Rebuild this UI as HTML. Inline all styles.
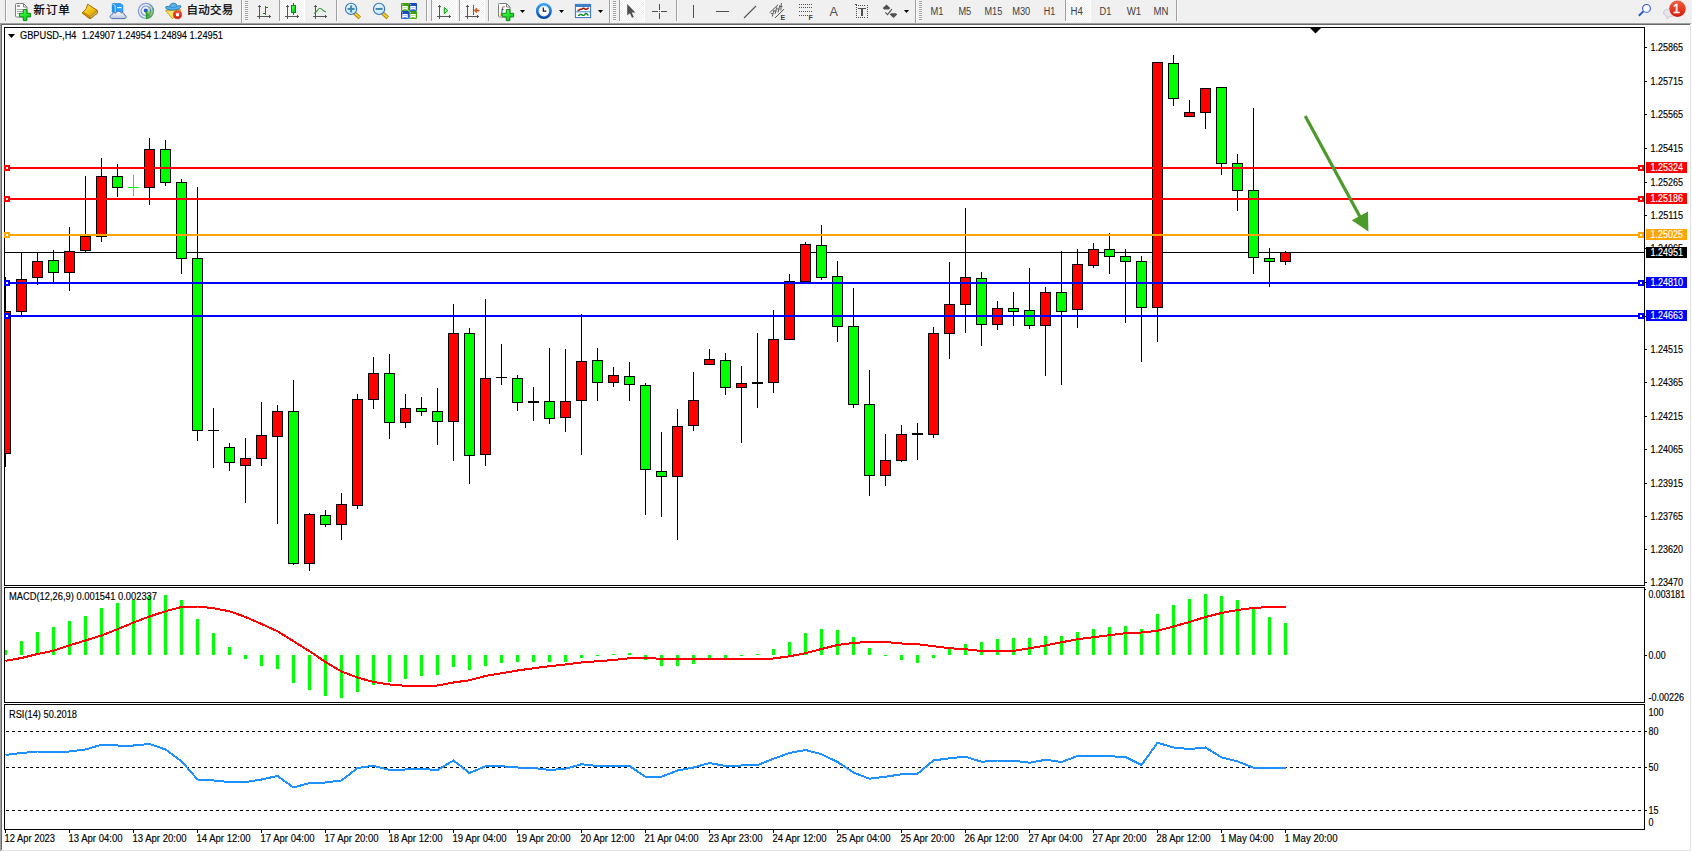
<!DOCTYPE html>
<html lang="zh"><head><meta charset="utf-8"><title>GBPUSD-,H4</title>
<style>html,body{margin:0;padding:0;background:#fff;overflow:hidden}svg{display:block}</style></head>
<body><svg width="1692" height="852" viewBox="0 0 1692 852" font-family="Liberation Sans, sans-serif" shape-rendering="crispEdges">
<rect x="0" y="0" width="1692" height="852" fill="#fff"/>
<rect x="0" y="0" width="1692" height="23" fill="#f0f0f0"/>
<rect x="0" y="23" width="1691" height="1" fill="#a0a0a0"/>
<rect x="0" y="24" width="1690" height="1" fill="#696969"/>
<rect x="0" y="23" width="1" height="828" fill="#a0a0a0"/>
<rect x="1" y="24" width="1" height="826" fill="#696969"/>
<rect x="1690" y="24" width="1" height="827" fill="#e3e3e3"/>
<rect x="1" y="850" width="1690" height="1" fill="#e3e3e3"/>
<defs><pattern id="chk" width="2" height="2" patternUnits="userSpaceOnUse"><rect width="2" height="2" fill="#f0f0f0"/><rect width="1" height="1" fill="#fff"/><rect x="1" y="1" width="1" height="1" fill="#fff"/></pattern><linearGradient id="gp" x1="0" y1="0" x2="1" y2="1"><stop offset="0" stop-color="#8cff8c"/><stop offset="0.5" stop-color="#1ee62a"/><stop offset="1" stop-color="#0fb81a"/></linearGradient><linearGradient id="gold" x1="0" y1="0" x2="1" y2="1"><stop offset="0" stop-color="#ffe870"/><stop offset="0.5" stop-color="#f0c010"/><stop offset="1" stop-color="#c88a00"/></linearGradient><linearGradient id="cloud" x1="0" y1="0" x2="0" y2="1"><stop offset="0" stop-color="#ffffff"/><stop offset="1" stop-color="#b8c6de"/></linearGradient><linearGradient id="srv" x1="0" y1="0" x2="1" y2="0"><stop offset="0" stop-color="#0a90f0"/><stop offset="1" stop-color="#38a8ff"/></linearGradient><radialGradient id="lens" cx="0.4" cy="0.35" r="0.7"><stop offset="0" stop-color="#f0faff"/><stop offset="1" stop-color="#bfe4f8"/></radialGradient><linearGradient id="clk" x1="0" y1="0" x2="0" y2="1"><stop offset="0" stop-color="#3aa0f4"/><stop offset="1" stop-color="#0848a8"/></linearGradient><linearGradient id="redb" x1="0" y1="0" x2="0" y2="1"><stop offset="0" stop-color="#f06040"/><stop offset="1" stop-color="#d81808"/></linearGradient><linearGradient id="tg" x1="0" y1="0" x2="0" y2="1"><stop offset="0" stop-color="#3a9a08"/><stop offset="1" stop-color="#56b018"/></linearGradient><linearGradient id="tb" x1="0" y1="0" x2="0" y2="1"><stop offset="0" stop-color="#1444b8"/><stop offset="1" stop-color="#2a6ae0"/></linearGradient></defs>
<rect x="5" y="0" width="1" height="21" fill="#a0a0a0"/>
<rect x="6" y="0" width="1" height="21" fill="#fafafa"/>
<rect x="241" y="0" width="1" height="23" fill="#a0a0a0"/>
<rect x="242" y="0" width="1" height="23" fill="#fafafa"/>
<rect x="245" y="1" width="3" height="1" fill="#a0a0a0"/>
<rect x="245" y="2" width="3" height="1" fill="#f8f8f8"/>
<rect x="245" y="3" width="3" height="1" fill="#a0a0a0"/>
<rect x="245" y="4" width="3" height="1" fill="#f8f8f8"/>
<rect x="245" y="5" width="3" height="1" fill="#a0a0a0"/>
<rect x="245" y="6" width="3" height="1" fill="#f8f8f8"/>
<rect x="245" y="7" width="3" height="1" fill="#a0a0a0"/>
<rect x="245" y="8" width="3" height="1" fill="#f8f8f8"/>
<rect x="245" y="9" width="3" height="1" fill="#a0a0a0"/>
<rect x="245" y="10" width="3" height="1" fill="#f8f8f8"/>
<rect x="245" y="11" width="3" height="1" fill="#a0a0a0"/>
<rect x="245" y="12" width="3" height="1" fill="#f8f8f8"/>
<rect x="245" y="13" width="3" height="1" fill="#a0a0a0"/>
<rect x="245" y="14" width="3" height="1" fill="#f8f8f8"/>
<rect x="245" y="15" width="3" height="1" fill="#a0a0a0"/>
<rect x="245" y="16" width="3" height="1" fill="#f8f8f8"/>
<rect x="245" y="17" width="3" height="1" fill="#a0a0a0"/>
<rect x="245" y="18" width="3" height="1" fill="#f8f8f8"/>
<rect x="245" y="19" width="3" height="1" fill="#a0a0a0"/>
<rect x="245" y="20" width="3" height="1" fill="#f8f8f8"/>
<rect x="280" y="0" width="24" height="21" fill="url(#chk)"/>
<rect x="279" y="0" width="1" height="21" fill="#a0a0a0"/>
<rect x="304" y="0" width="1" height="22" fill="#fff"/>
<rect x="279" y="21" width="26" height="1" fill="#fff"/>
<rect x="336" y="0" width="1" height="21" fill="#a0a0a0"/>
<rect x="337" y="0" width="1" height="21" fill="#fafafa"/>
<rect x="426" y="0" width="1" height="21" fill="#a0a0a0"/>
<rect x="427" y="0" width="1" height="21" fill="#fafafa"/>
<rect x="432" y="0" width="24" height="21" fill="url(#chk)"/>
<rect x="431" y="0" width="1" height="21" fill="#a0a0a0"/>
<rect x="456" y="0" width="1" height="22" fill="#fff"/>
<rect x="431" y="21" width="26" height="1" fill="#fff"/>
<rect x="460" y="0" width="24" height="21" fill="url(#chk)"/>
<rect x="459" y="0" width="1" height="21" fill="#a0a0a0"/>
<rect x="484" y="0" width="1" height="22" fill="#fff"/>
<rect x="459" y="21" width="26" height="1" fill="#fff"/>
<rect x="488" y="0" width="1" height="21" fill="#a0a0a0"/>
<rect x="489" y="0" width="1" height="21" fill="#fafafa"/>
<rect x="609" y="0" width="1" height="23" fill="#a0a0a0"/>
<rect x="610" y="0" width="1" height="23" fill="#fafafa"/>
<rect x="613" y="1" width="3" height="1" fill="#a0a0a0"/>
<rect x="613" y="2" width="3" height="1" fill="#f8f8f8"/>
<rect x="613" y="3" width="3" height="1" fill="#a0a0a0"/>
<rect x="613" y="4" width="3" height="1" fill="#f8f8f8"/>
<rect x="613" y="5" width="3" height="1" fill="#a0a0a0"/>
<rect x="613" y="6" width="3" height="1" fill="#f8f8f8"/>
<rect x="613" y="7" width="3" height="1" fill="#a0a0a0"/>
<rect x="613" y="8" width="3" height="1" fill="#f8f8f8"/>
<rect x="613" y="9" width="3" height="1" fill="#a0a0a0"/>
<rect x="613" y="10" width="3" height="1" fill="#f8f8f8"/>
<rect x="613" y="11" width="3" height="1" fill="#a0a0a0"/>
<rect x="613" y="12" width="3" height="1" fill="#f8f8f8"/>
<rect x="613" y="13" width="3" height="1" fill="#a0a0a0"/>
<rect x="613" y="14" width="3" height="1" fill="#f8f8f8"/>
<rect x="613" y="15" width="3" height="1" fill="#a0a0a0"/>
<rect x="613" y="16" width="3" height="1" fill="#f8f8f8"/>
<rect x="613" y="17" width="3" height="1" fill="#a0a0a0"/>
<rect x="613" y="18" width="3" height="1" fill="#f8f8f8"/>
<rect x="613" y="19" width="3" height="1" fill="#a0a0a0"/>
<rect x="613" y="20" width="3" height="1" fill="#f8f8f8"/>
<rect x="620" y="0" width="24" height="21" fill="url(#chk)"/>
<rect x="619" y="0" width="1" height="21" fill="#a0a0a0"/>
<rect x="644" y="0" width="1" height="22" fill="#fff"/>
<rect x="619" y="21" width="26" height="1" fill="#fff"/>
<rect x="676" y="0" width="1" height="21" fill="#a0a0a0"/>
<rect x="677" y="0" width="1" height="21" fill="#fafafa"/>
<rect x="915" y="0" width="1" height="23" fill="#a0a0a0"/>
<rect x="916" y="0" width="1" height="23" fill="#fafafa"/>
<rect x="919" y="1" width="3" height="1" fill="#a0a0a0"/>
<rect x="919" y="2" width="3" height="1" fill="#f8f8f8"/>
<rect x="919" y="3" width="3" height="1" fill="#a0a0a0"/>
<rect x="919" y="4" width="3" height="1" fill="#f8f8f8"/>
<rect x="919" y="5" width="3" height="1" fill="#a0a0a0"/>
<rect x="919" y="6" width="3" height="1" fill="#f8f8f8"/>
<rect x="919" y="7" width="3" height="1" fill="#a0a0a0"/>
<rect x="919" y="8" width="3" height="1" fill="#f8f8f8"/>
<rect x="919" y="9" width="3" height="1" fill="#a0a0a0"/>
<rect x="919" y="10" width="3" height="1" fill="#f8f8f8"/>
<rect x="919" y="11" width="3" height="1" fill="#a0a0a0"/>
<rect x="919" y="12" width="3" height="1" fill="#f8f8f8"/>
<rect x="919" y="13" width="3" height="1" fill="#a0a0a0"/>
<rect x="919" y="14" width="3" height="1" fill="#f8f8f8"/>
<rect x="919" y="15" width="3" height="1" fill="#a0a0a0"/>
<rect x="919" y="16" width="3" height="1" fill="#f8f8f8"/>
<rect x="919" y="17" width="3" height="1" fill="#a0a0a0"/>
<rect x="919" y="18" width="3" height="1" fill="#f8f8f8"/>
<rect x="919" y="19" width="3" height="1" fill="#a0a0a0"/>
<rect x="919" y="20" width="3" height="1" fill="#f8f8f8"/>
<rect x="1066" y="0" width="24" height="21" fill="url(#chk)"/>
<rect x="1065" y="0" width="1" height="21" fill="#a0a0a0"/>
<rect x="1090" y="0" width="1" height="22" fill="#fff"/>
<rect x="1065" y="21" width="26" height="1" fill="#fff"/>
<rect x="1176" y="0" width="1" height="21" fill="#a0a0a0"/>
<rect x="1177" y="0" width="1" height="21" fill="#fafafa"/>
<g shape-rendering="geometricPrecision">
<path d="M15.5 4.5q0-1 1-1h7l3.5 3.5v9q0 1-1 1h-9.5q-1 0-1-1z" fill="#fff" stroke="#808080" stroke-width="1"/>
<path d="M23.5 3.5v3.5h3.5" fill="none" stroke="#808080" stroke-width="1"/>
<rect x="17" y="5" width="3" height="2" fill="#a0a0a0"/>
<rect x="17" y="9" width="7" height="1" fill="#a8a8a8"/>
<rect x="17" y="11" width="7" height="1" fill="#a8a8a8"/>
<rect x="17" y="13" width="7" height="1" fill="#a8a8a8"/>
<path d="M23.3 9.6h3.6v3.7h3.7v3.6h-3.7v3.7h-3.6v-3.7h-3.7v-3.6h3.7z" fill="url(#gp)" stroke="#0a8a10" stroke-width="1" stroke-linejoin="miter"/>
<path d="M87.7 4.2L97.2 10.3L97.6 13L90 18.9L82.2 12.9L86.2 8.8z" fill="url(#gold)" stroke="#a86c00" stroke-width="1" stroke-linejoin="round"/>
<path d="M97.2 10.6L97.6 13L90 18.9L89.7 16.6z" fill="#cdb870" stroke="#a86c00" stroke-width="0.7" stroke-linejoin="round"/>
<path d="M82.2 12.9L90 18.9L89.7 16.4L83.2 11.8z" fill="#d8980c" stroke="#a86c00" stroke-width="0.7" stroke-linejoin="round"/>
<path d="M112.3 3.6h8l2.6 1.6v7h-10.6z" fill="url(#srv)" stroke="#0a78d8" stroke-width="0.6"/>
<path d="M112.6 3.8l2.6 1.8v6.4" fill="none" stroke="#e8f6ff" stroke-width="0.8"/>
<rect x="117" y="7" width="4.5" height="1.2" fill="#e8f6ff"/>
<path d="M112.2 18.6C109.4 18.6 109.4 14.8 112.2 14.5C112.4 12.5 114.8 12.2 115.7 13.3C116.5 10.7 120.7 10.7 121.3 13.1C123 12.2 124.8 13.6 124.3 14.9C126.8 15 126.8 18.6 124 18.6z" fill="url(#cloud)" stroke="#4664a8" stroke-width="0.9"/>
<path d="M145.9 10.9L145.9 19.1A8.2 8.2 0 0 0 150.0 3.8000000000000007z" fill="#b4d8a4" opacity="0.7"/>
<path d="M145.9 10.9L145.9 19.1A8.2 8.2 0 0 0 154.1 10.9z" fill="#4aa84a" opacity="0.4"/>
<path d="M145.9 10.9L145.9 19.1A8.2 8.2 0 0 0 151.70000000000002 16.7z" fill="#2a982a" opacity="0.45"/>
<circle cx="145.9" cy="10.9" r="7.5" fill="none" stroke="#3a68d4" stroke-width="1.3" opacity="0.6" stroke-dasharray="34.16 100" transform="rotate(95 145.9 10.9)"/>
<circle cx="145.9" cy="10.9" r="7.5" fill="none" stroke="#2c7c50" stroke-width="1.3" opacity="0.55" stroke-dasharray="14.14 100" transform="rotate(-20 145.9 10.9)"/>
<circle cx="145.9" cy="10.9" r="4.8" fill="none" stroke="#3a68d4" stroke-width="1.3" opacity="0.55" stroke-dasharray="21.87 100" transform="rotate(95 145.9 10.9)"/>
<circle cx="145.9" cy="10.9" r="4.8" fill="none" stroke="#2c7c50" stroke-width="1.3" opacity="0.55" stroke-dasharray="9.05 100" transform="rotate(-20 145.9 10.9)"/>
<circle cx="145.70000000000002" cy="10.6" r="2" fill="#2a58d0"/>
<line x1="146.5" y1="11.200000000000001" x2="146.5" y2="19.1" stroke="#18a018" stroke-width="1.3"/>
<path d="M165.6 10.6L181 9.6L172.6 18.8z" fill="#f8e060" stroke="#c89a10" stroke-width="0.9" stroke-linejoin="round"/>
<path d="M165.5 7.4c0.2-1.6 2.2-0.8 4-0.6c0-4.6 7.4-4.8 7.6-0.6c1.6-0.2 3.6-1.4 3.8 0.2c0.2 1.8-3.4 3.4-7.6 3.6c-4.4 0.2-8-0.8-7.8-2.6z" fill="#5ab2ea" stroke="#1a7cb0" stroke-width="0.9"/>
<path d="M169.6 6.9c2 1 5.4 0.8 7.4-0.6" fill="none" stroke="#1a7cb0" stroke-width="0.7" opacity="0.8"/>
<circle cx="177.5" cy="14.7" r="4.1" fill="url(#redb)" stroke="#b81000" stroke-width="0.5"/>
<rect x="176" y="13.2" width="3" height="3" fill="#fff"/>
<g shape-rendering="crispEdges">
<rect x="259" y="5" width="1" height="14" fill="#555555"/>
<rect x="257" y="16" width="14" height="1" fill="#555555"/>
<rect x="258" y="6" width="3" height="1" fill="#555555"/>
<rect x="269" y="15" width="1" height="3" fill="#555555"/>
</g>
<g shape-rendering="crispEdges">
<rect x="265" y="6" width="1" height="9" fill="#0a8a0a"/>
<rect x="266" y="7" width="2" height="1" fill="#0a8a0a"/>
<rect x="263" y="13" width="2" height="1" fill="#0a8a0a"/>
</g>
<g shape-rendering="crispEdges">
<rect x="287" y="5" width="1" height="14" fill="#555555"/>
<rect x="285" y="16" width="14" height="1" fill="#555555"/>
<rect x="286" y="6" width="3" height="1" fill="#555555"/>
<rect x="297" y="15" width="1" height="3" fill="#555555"/>
</g>
<rect x="293" y="3" width="1" height="12" fill="#0a8a0a" shape-rendering="crispEdges"/>
<rect x="291.5" y="5.5" width="4" height="7" fill="url(#gp)" stroke="#0a8a0a" stroke-width="1"/>
<g shape-rendering="crispEdges">
<rect x="315" y="5" width="1" height="14" fill="#555555"/>
<rect x="313" y="16" width="14" height="1" fill="#555555"/>
<rect x="314" y="6" width="3" height="1" fill="#555555"/>
<rect x="325" y="15" width="1" height="3" fill="#555555"/>
</g>
<path d="M314 13.6C316.5 12.6 318 8.3 320 8.3S323 11.4 325.8 11.9" fill="none" stroke="#2a9a2a" stroke-width="1.1"/>
<path d="M354.5 13.100000000000001l5.3 4.7" stroke="#a87800" stroke-width="3.6" stroke-linecap="butt"/>
<path d="M354.90000000000003 13.4l4.7 4.2" stroke="#f0d030" stroke-width="2" stroke-linecap="butt"/>
<circle cx="351.1" cy="8.9" r="5.6" fill="url(#lens)" stroke="#3274c4" stroke-width="1.1"/>
<rect x="347.6" y="7.9" width="7" height="2" fill="#4088b0"/>
<rect x="350.1" y="5.4" width="2" height="7" fill="#4088b0"/>
<path d="M382.5 13.100000000000001l5.3 4.7" stroke="#a87800" stroke-width="3.6" stroke-linecap="butt"/>
<path d="M382.90000000000003 13.4l4.7 4.2" stroke="#f0d030" stroke-width="2" stroke-linecap="butt"/>
<circle cx="379.1" cy="8.9" r="5.6" fill="url(#lens)" stroke="#3274c4" stroke-width="1.1"/>
<rect x="375.6" y="7.9" width="7" height="2" fill="#4088b0"/>
<rect x="401" y="3" width="8" height="8" rx="1" fill="url(#tg)"/>
<path d="M402.3 10v-4h5.4v4h-1.1v-0.7h-3.2v0.7z" fill="#fff"/>
<rect x="402.2" y="4.2" width="0.9" height="0.9" fill="#fff"/>
<rect x="403.3" y="7.3" width="3.4" height="0.7" fill="#9ad070"/>
<rect x="409" y="3" width="8" height="8" rx="1" fill="url(#tb)"/>
<path d="M410.3 10v-4h5.4v4h-1.1v-0.7h-3.2v0.7z" fill="#fff"/>
<rect x="410.2" y="4.2" width="0.9" height="0.9" fill="#fff"/>
<rect x="411.3" y="7.3" width="3.4" height="0.7" fill="#88a8f0"/>
<rect x="401" y="11" width="8" height="8" rx="1" fill="url(#tb)"/>
<path d="M402.3 18v-4h5.4v4h-1.1v-0.7h-3.2v0.7z" fill="#fff"/>
<rect x="402.2" y="12.2" width="0.9" height="0.9" fill="#fff"/>
<rect x="403.3" y="15.3" width="3.4" height="0.7" fill="#88a8f0"/>
<rect x="409" y="11" width="8" height="8" rx="1" fill="url(#tg)"/>
<path d="M410.3 18v-4h5.4v4h-1.1v-0.7h-3.2v0.7z" fill="#fff"/>
<rect x="410.2" y="12.2" width="0.9" height="0.9" fill="#fff"/>
<rect x="411.3" y="15.3" width="3.4" height="0.7" fill="#9ad070"/>
<g shape-rendering="crispEdges">
<rect x="439" y="5" width="1" height="14" fill="#555555"/>
<rect x="437" y="16" width="14" height="1" fill="#555555"/>
<rect x="438" y="6" width="3" height="1" fill="#555555"/>
<rect x="449" y="15" width="1" height="3" fill="#555555"/>
</g>
<path d="M444.3 7.4v6.3l3.6-3.1z" fill="#7cf08c" stroke="#12a012" stroke-width="1" stroke-linejoin="round"/>
<g shape-rendering="crispEdges">
<rect x="467" y="5" width="1" height="14" fill="#555555"/>
<rect x="465" y="16" width="14" height="1" fill="#555555"/>
<rect x="466" y="6" width="3" height="1" fill="#555555"/>
<rect x="477" y="15" width="1" height="3" fill="#555555"/>
</g>
<rect x="473" y="5" width="1" height="10" fill="#1878a8" shape-rendering="crispEdges"/>
<path d="M474.2 10.5l2.4-2.4v1.8h2.4v1.2h-2.4v1.8z" fill="#f06000" stroke="#a83000" stroke-width="0.5"/>
<path d="M498.5 4.5q0-1 1-1h7l3.5 3.5v9q0 1-1 1h-9.5q-1 0-1-1z" fill="#fff" stroke="#808080" stroke-width="1"/>
<path d="M506.5 3.5v3.5h3.5" fill="none" stroke="#808080" stroke-width="1"/>
<text x="500.5" y="13.5" font-size="11" font-style="italic" font-family="Liberation Serif, serif" fill="#403818">f</text>
<path d="M506.3 9.6h3.6v3.7h3.7v3.6h-3.7v3.7h-3.6v-3.7h-3.7v-3.6h3.7z" fill="url(#gp)" stroke="#0a8a10" stroke-width="1" stroke-linejoin="miter"/>
<path d="M520 10h5l-2.5 3z" fill="#000"/>
<circle cx="543.9" cy="11" r="6.7" fill="#fff" stroke="url(#clk)" stroke-width="2.6"/>
<circle cx="543.9" cy="11" r="4.6" fill="none" stroke="#a0a8b0" stroke-width="0.8" stroke-dasharray="0.6 1.81"/>
<path d="M543.3 7.4v3.7h3" fill="none" stroke="#111" stroke-width="1.2"/>
<path d="M559 10h5l-2.5 3z" fill="#000"/>
<rect x="575.4" y="4.4" width="15.2" height="13.2" fill="#fff" stroke="#3472c0" stroke-width="1"/>
<rect x="576" y="5" width="14" height="2" fill="#3a80d0"/>
<rect x="576" y="11.3" width="14" height="1" fill="#4a88d0"/>
<path d="M577.5 10.2h1.5l1.2-1h1.4l1.4-1h1l1.2 1h1.6l1-1h1" fill="none" stroke="#a01800" stroke-width="1.4"/>
<path d="M578 15.4h1.2l1.2-1h1l1.2 1h1.2l2-2l1.2 0.6l1.4 1.6" fill="none" stroke="#0c8a24" stroke-width="1.4"/>
<path d="M598 10h5l-2.5 3z" fill="#000"/>
<path d="M627.2 4v11.6l2.7-2.4l2.1 4.6l1.8-0.8l-2.1-4.5h3.7z" fill="#505050"/>
<g shape-rendering="crispEdges">
<rect x="659" y="4" width="1" height="6" fill="#505050"/>
<rect x="659" y="13" width="1" height="6" fill="#505050"/>
<rect x="652" y="11" width="6" height="1" fill="#505050"/>
<rect x="661" y="11" width="6" height="1" fill="#505050"/>
<rect x="659" y="11" width="1" height="1" fill="#505050"/>
<rect x="693" y="5" width="1" height="13" fill="#505050"/>
<rect x="716" y="11" width="13" height="1" fill="#505050"/>
</g>
<line x1="744" y1="18" x2="756" y2="6" stroke="#505050" stroke-width="1.1"/>
<path d="M769.6 12.8L778 4.8M775 18L784 9.2" stroke="#505050" stroke-width="1" fill="none"/>
<path d="M772.3 16.5l1.6-6.5M775 14l1.8-6.8M778 12.6l1.8-7.4M780.8 10.6l0.6-7.6M771 13.6h2M774 11h2.6M777 9h2.6M780 6.6h2.4" stroke="#505050" stroke-width="0.9" fill="none"/>
<text x="780.6" y="19.9" font-size="7" font-weight="bold" fill="#404040">E</text>
<g shape-rendering="crispEdges">
<rect x="799" y="4" width="1" height="1" fill="#505050"/>
<rect x="801" y="4" width="1" height="1" fill="#505050"/>
<rect x="803" y="4" width="1" height="1" fill="#505050"/>
<rect x="805" y="4" width="1" height="1" fill="#505050"/>
<rect x="807" y="4" width="1" height="1" fill="#505050"/>
<rect x="809" y="4" width="1" height="1" fill="#505050"/>
<rect x="811" y="4" width="1" height="1" fill="#505050"/>
<rect x="799" y="7" width="1" height="1" fill="#505050"/>
<rect x="801" y="7" width="1" height="1" fill="#505050"/>
<rect x="803" y="7" width="1" height="1" fill="#505050"/>
<rect x="805" y="7" width="1" height="1" fill="#505050"/>
<rect x="807" y="7" width="1" height="1" fill="#505050"/>
<rect x="809" y="7" width="1" height="1" fill="#505050"/>
<rect x="811" y="7" width="1" height="1" fill="#505050"/>
<rect x="799" y="11" width="1" height="1" fill="#505050"/>
<rect x="801" y="11" width="1" height="1" fill="#505050"/>
<rect x="803" y="11" width="1" height="1" fill="#505050"/>
<rect x="805" y="11" width="1" height="1" fill="#505050"/>
<rect x="807" y="11" width="1" height="1" fill="#505050"/>
<rect x="809" y="11" width="1" height="1" fill="#505050"/>
<rect x="811" y="11" width="1" height="1" fill="#505050"/>
<rect x="799" y="15" width="1" height="1" fill="#505050"/>
<rect x="801" y="15" width="1" height="1" fill="#505050"/>
<rect x="803" y="15" width="1" height="1" fill="#505050"/>
<rect x="805" y="15" width="1" height="1" fill="#505050"/>
<rect x="807" y="15" width="1" height="1" fill="#505050"/>
</g>
<text x="808.6" y="19.9" font-size="7" font-weight="bold" fill="#404040">F</text>
<text x="829.6" y="16" font-size="12.5" fill="#505050" textLength="8.4" lengthAdjust="spacingAndGlyphs">A</text>
<g shape-rendering="crispEdges">
<rect x="856" y="5" width="1" height="1" fill="#505050"/>
<rect x="856" y="17" width="1" height="1" fill="#505050"/>
<rect x="858" y="5" width="1" height="1" fill="#505050"/>
<rect x="858" y="17" width="1" height="1" fill="#505050"/>
<rect x="860" y="5" width="1" height="1" fill="#505050"/>
<rect x="860" y="17" width="1" height="1" fill="#505050"/>
<rect x="862" y="5" width="1" height="1" fill="#505050"/>
<rect x="862" y="17" width="1" height="1" fill="#505050"/>
<rect x="864" y="5" width="1" height="1" fill="#505050"/>
<rect x="864" y="17" width="1" height="1" fill="#505050"/>
<rect x="867" y="5" width="1" height="1" fill="#505050"/>
<rect x="867" y="17" width="1" height="1" fill="#505050"/>
<rect x="856" y="5" width="1" height="1" fill="#505050"/>
<rect x="867" y="5" width="1" height="1" fill="#505050"/>
<rect x="856" y="7" width="1" height="1" fill="#505050"/>
<rect x="867" y="7" width="1" height="1" fill="#505050"/>
<rect x="856" y="9" width="1" height="1" fill="#505050"/>
<rect x="867" y="9" width="1" height="1" fill="#505050"/>
<rect x="856" y="11" width="1" height="1" fill="#505050"/>
<rect x="867" y="11" width="1" height="1" fill="#505050"/>
<rect x="856" y="13" width="1" height="1" fill="#505050"/>
<rect x="867" y="13" width="1" height="1" fill="#505050"/>
<rect x="856" y="15" width="1" height="1" fill="#505050"/>
<rect x="867" y="15" width="1" height="1" fill="#505050"/>
<rect x="856" y="17" width="1" height="1" fill="#505050"/>
<rect x="867" y="17" width="1" height="1" fill="#505050"/>
<rect x="855" y="4" width="2" height="1" fill="#505050"/>
<rect x="858" y="8" width="8" height="1" fill="#505050"/>
<rect x="861" y="8" width="2" height="8" fill="#505050"/>
</g>
<path d="M886.5 4.6l3.7 3.4l-1.2 1.4h-5l-1.2-1.4z M893.5 18l3.7-3.4l-1.2-1.4h-5l-1.2 1.4z" fill="#505050"/>
<path d="M885.3 12.4l2.2 2.2l4.4-5.4" fill="none" stroke="#505050" stroke-width="1.1"/>
<path d="M904 10h5l-2.5 3z" fill="#000"/>
<circle cx="1646.5" cy="8.4" r="3.9" fill="#fff" stroke="#2a5cd0" stroke-width="1.1"/>
<line x1="1643.4" y1="11.4" x2="1638.8" y2="15.8" stroke="#2458c8" stroke-width="1.9"/>
<path d="M1663.6 12.6c0-5 12.4-5 12.4 0c0 3-3.4 4-6.6 3.8l-2.2 2.6l-0.4-2.8c-1.8-0.4-3.2-1.6-3.2-3.6z" fill="#e4e6ec" stroke="#c0c0c4" stroke-width="0.8"/>
<circle cx="1677.5" cy="8.7" r="8.2" fill="url(#redb)"/>
<text x="1676.4" y="13.2" font-size="12.5" stroke="#fff" stroke-width="0.4" fill="#fff" text-anchor="middle">1</text>
</g>
<text x="33.6" y="14.1" letter-spacing="0.8" font-size="11.5" fill="#000" stroke="#000" stroke-width="0.25" font-family="Liberation Sans, Noto Sans CJK SC, sans-serif">新订单</text>
<text x="186.5" y="14.1" letter-spacing="0.27" font-size="11.5" fill="#000" stroke="#000" stroke-width="0.25" font-family="Liberation Sans, Noto Sans CJK SC, sans-serif">自动交易</text>
<text x="930.4" y="15" font-size="10" fill="#404040" textLength="13.0" lengthAdjust="spacingAndGlyphs">M1</text>
<text x="958.4" y="15" font-size="10" fill="#404040" textLength="12.8" lengthAdjust="spacingAndGlyphs">M5</text>
<text x="984.5" y="15" font-size="10" fill="#404040" textLength="17.7" lengthAdjust="spacingAndGlyphs">M15</text>
<text x="1012.2" y="15" font-size="10" fill="#404040" textLength="18.1" lengthAdjust="spacingAndGlyphs">M30</text>
<text x="1043.7" y="15" font-size="10" fill="#404040" textLength="11.5" lengthAdjust="spacingAndGlyphs">H1</text>
<text x="1070.6" y="15" font-size="10" fill="#404040" textLength="12.3" lengthAdjust="spacingAndGlyphs">H4</text>
<text x="1099.5" y="15" font-size="10" fill="#404040" textLength="11.8" lengthAdjust="spacingAndGlyphs">D1</text>
<text x="1126.7" y="15" font-size="10" fill="#404040" textLength="14.6" lengthAdjust="spacingAndGlyphs">W1</text>
<text x="1153.6" y="15" font-size="10" fill="#404040" textLength="14.9" lengthAdjust="spacingAndGlyphs">MN</text>
<rect x="4" y="27" width="1641" height="1" fill="#000"/>
<rect x="4" y="585" width="1641" height="1" fill="#000"/>
<rect x="4" y="27" width="1" height="559" fill="#000"/>
<rect x="1644" y="27" width="1" height="559" fill="#000"/>
<rect x="4" y="587" width="1641" height="1" fill="#000"/>
<rect x="4" y="702" width="1641" height="1" fill="#000"/>
<rect x="4" y="587" width="1" height="116" fill="#000"/>
<rect x="1644" y="587" width="1" height="116" fill="#000"/>
<rect x="4" y="704" width="1641" height="1" fill="#000"/>
<rect x="4" y="829" width="1641" height="1" fill="#000"/>
<rect x="4" y="704" width="1" height="126" fill="#000"/>
<rect x="1644" y="704" width="1" height="126" fill="#000"/>
<defs><clipPath id="c1"><rect x="5" y="28" width="1639" height="557"/></clipPath><clipPath id="c2"><rect x="5" y="588" width="1639" height="114"/></clipPath><clipPath id="c3"><rect x="5" y="705" width="1639" height="124"/></clipPath></defs>
<rect x="5" y="252" width="1639" height="1" fill="#000"/>
<g clip-path="url(#c1)">
<rect x="5" y="277" width="1" height="190" fill="#000"/>
<rect x="0" y="311" width="11" height="143" fill="#000"/>
<rect x="1" y="312" width="9" height="141" fill="#ff0000"/>
<rect x="21" y="252" width="1" height="63" fill="#000"/>
<rect x="16" y="279" width="11" height="33" fill="#000"/>
<rect x="17" y="280" width="9" height="31" fill="#ff0000"/>
<rect x="37" y="252" width="1" height="33" fill="#000"/>
<rect x="32" y="261" width="11" height="17" fill="#000"/>
<rect x="33" y="262" width="9" height="15" fill="#ff0000"/>
<rect x="53" y="250" width="1" height="32" fill="#000"/>
<rect x="48" y="260" width="11" height="13" fill="#000"/>
<rect x="49" y="261" width="9" height="11" fill="#00ff00"/>
<rect x="69" y="227" width="1" height="64" fill="#000"/>
<rect x="64" y="251" width="11" height="22" fill="#000"/>
<rect x="65" y="252" width="9" height="20" fill="#ff0000"/>
<rect x="85" y="176" width="1" height="76" fill="#000"/>
<rect x="80" y="236" width="11" height="15" fill="#000"/>
<rect x="81" y="237" width="9" height="13" fill="#ff0000"/>
<rect x="101" y="158" width="1" height="84" fill="#000"/>
<rect x="96" y="176" width="11" height="61" fill="#000"/>
<rect x="97" y="177" width="9" height="59" fill="#ff0000"/>
<rect x="117" y="164" width="1" height="33" fill="#000"/>
<rect x="112" y="176" width="11" height="12" fill="#000"/>
<rect x="113" y="177" width="9" height="10" fill="#00ff00"/>
<rect x="133" y="175" width="1" height="21" fill="#00ff00"/>
<rect x="128" y="187" width="11" height="1" fill="#00ff00"/>
<rect x="149" y="138" width="1" height="67" fill="#000"/>
<rect x="144" y="149" width="11" height="39" fill="#000"/>
<rect x="145" y="150" width="9" height="37" fill="#ff0000"/>
<rect x="165" y="140" width="1" height="46" fill="#000"/>
<rect x="160" y="149" width="11" height="34" fill="#000"/>
<rect x="161" y="150" width="9" height="32" fill="#00ff00"/>
<rect x="181" y="179" width="1" height="95" fill="#000"/>
<rect x="176" y="182" width="11" height="77" fill="#000"/>
<rect x="177" y="183" width="9" height="75" fill="#00ff00"/>
<rect x="197" y="187" width="1" height="254" fill="#000"/>
<rect x="192" y="258" width="11" height="173" fill="#000"/>
<rect x="193" y="259" width="9" height="171" fill="#00ff00"/>
<rect x="213" y="408" width="1" height="60" fill="#000"/>
<rect x="208" y="430" width="11" height="1" fill="#000"/>
<rect x="229" y="443" width="1" height="28" fill="#000"/>
<rect x="224" y="447" width="11" height="16" fill="#000"/>
<rect x="225" y="448" width="9" height="14" fill="#00ff00"/>
<rect x="245" y="438" width="1" height="65" fill="#000"/>
<rect x="240" y="458" width="11" height="8" fill="#000"/>
<rect x="241" y="459" width="9" height="6" fill="#ff0000"/>
<rect x="261" y="402" width="1" height="64" fill="#000"/>
<rect x="256" y="435" width="11" height="24" fill="#000"/>
<rect x="257" y="436" width="9" height="22" fill="#ff0000"/>
<rect x="277" y="405" width="1" height="119" fill="#000"/>
<rect x="272" y="411" width="11" height="26" fill="#000"/>
<rect x="273" y="412" width="9" height="24" fill="#ff0000"/>
<rect x="293" y="380" width="1" height="185" fill="#000"/>
<rect x="288" y="411" width="11" height="153" fill="#000"/>
<rect x="289" y="412" width="9" height="151" fill="#00ff00"/>
<rect x="309" y="513" width="1" height="58" fill="#000"/>
<rect x="304" y="514" width="11" height="50" fill="#000"/>
<rect x="305" y="515" width="9" height="48" fill="#ff0000"/>
<rect x="325" y="510" width="1" height="17" fill="#000"/>
<rect x="320" y="515" width="11" height="10" fill="#000"/>
<rect x="321" y="516" width="9" height="8" fill="#00ff00"/>
<rect x="341" y="493" width="1" height="47" fill="#000"/>
<rect x="336" y="504" width="11" height="21" fill="#000"/>
<rect x="337" y="505" width="9" height="19" fill="#ff0000"/>
<rect x="357" y="394" width="1" height="115" fill="#000"/>
<rect x="352" y="399" width="11" height="107" fill="#000"/>
<rect x="353" y="400" width="9" height="105" fill="#ff0000"/>
<rect x="373" y="357" width="1" height="52" fill="#000"/>
<rect x="368" y="373" width="11" height="27" fill="#000"/>
<rect x="369" y="374" width="9" height="25" fill="#ff0000"/>
<rect x="389" y="354" width="1" height="85" fill="#000"/>
<rect x="384" y="373" width="11" height="50" fill="#000"/>
<rect x="385" y="374" width="9" height="48" fill="#00ff00"/>
<rect x="405" y="394" width="1" height="34" fill="#000"/>
<rect x="400" y="408" width="11" height="15" fill="#000"/>
<rect x="401" y="409" width="9" height="13" fill="#ff0000"/>
<rect x="421" y="397" width="1" height="19" fill="#000"/>
<rect x="416" y="408" width="11" height="4" fill="#000"/>
<rect x="417" y="409" width="9" height="2" fill="#00ff00"/>
<rect x="437" y="388" width="1" height="57" fill="#000"/>
<rect x="432" y="411" width="11" height="11" fill="#000"/>
<rect x="433" y="412" width="9" height="9" fill="#00ff00"/>
<rect x="453" y="304" width="1" height="157" fill="#000"/>
<rect x="448" y="333" width="11" height="89" fill="#000"/>
<rect x="449" y="334" width="9" height="87" fill="#ff0000"/>
<rect x="469" y="328" width="1" height="156" fill="#000"/>
<rect x="464" y="333" width="11" height="123" fill="#000"/>
<rect x="465" y="334" width="9" height="121" fill="#00ff00"/>
<rect x="485" y="299" width="1" height="167" fill="#000"/>
<rect x="480" y="378" width="11" height="77" fill="#000"/>
<rect x="481" y="379" width="9" height="75" fill="#ff0000"/>
<rect x="501" y="344" width="1" height="41" fill="#000"/>
<rect x="496" y="377" width="11" height="1" fill="#000"/>
<rect x="517" y="375" width="1" height="36" fill="#000"/>
<rect x="512" y="378" width="11" height="25" fill="#000"/>
<rect x="513" y="379" width="9" height="23" fill="#00ff00"/>
<rect x="533" y="387" width="1" height="34" fill="#000"/>
<rect x="528" y="401" width="11" height="2" fill="#000"/>
<rect x="549" y="348" width="1" height="76" fill="#000"/>
<rect x="544" y="401" width="11" height="18" fill="#000"/>
<rect x="545" y="402" width="9" height="16" fill="#00ff00"/>
<rect x="565" y="349" width="1" height="83" fill="#000"/>
<rect x="560" y="401" width="11" height="17" fill="#000"/>
<rect x="561" y="402" width="9" height="15" fill="#ff0000"/>
<rect x="581" y="314" width="1" height="141" fill="#000"/>
<rect x="576" y="361" width="11" height="40" fill="#000"/>
<rect x="577" y="362" width="9" height="38" fill="#ff0000"/>
<rect x="597" y="348" width="1" height="53" fill="#000"/>
<rect x="592" y="360" width="11" height="23" fill="#000"/>
<rect x="593" y="361" width="9" height="21" fill="#00ff00"/>
<rect x="613" y="367" width="1" height="20" fill="#000"/>
<rect x="608" y="375" width="11" height="8" fill="#000"/>
<rect x="609" y="376" width="9" height="6" fill="#ff0000"/>
<rect x="629" y="362" width="1" height="39" fill="#000"/>
<rect x="624" y="376" width="11" height="9" fill="#000"/>
<rect x="625" y="377" width="9" height="7" fill="#00ff00"/>
<rect x="645" y="383" width="1" height="132" fill="#000"/>
<rect x="640" y="385" width="11" height="85" fill="#000"/>
<rect x="641" y="386" width="9" height="83" fill="#00ff00"/>
<rect x="661" y="432" width="1" height="85" fill="#000"/>
<rect x="656" y="471" width="11" height="6" fill="#000"/>
<rect x="657" y="472" width="9" height="4" fill="#00ff00"/>
<rect x="677" y="409" width="1" height="131" fill="#000"/>
<rect x="672" y="426" width="11" height="51" fill="#000"/>
<rect x="673" y="427" width="9" height="49" fill="#ff0000"/>
<rect x="693" y="372" width="1" height="59" fill="#000"/>
<rect x="688" y="400" width="11" height="26" fill="#000"/>
<rect x="689" y="401" width="9" height="24" fill="#ff0000"/>
<rect x="709" y="349" width="1" height="16" fill="#000"/>
<rect x="704" y="359" width="11" height="6" fill="#000"/>
<rect x="705" y="360" width="9" height="4" fill="#ff0000"/>
<rect x="725" y="353" width="1" height="42" fill="#000"/>
<rect x="720" y="360" width="11" height="28" fill="#000"/>
<rect x="721" y="361" width="9" height="26" fill="#00ff00"/>
<rect x="741" y="366" width="1" height="77" fill="#000"/>
<rect x="736" y="383" width="11" height="5" fill="#000"/>
<rect x="737" y="384" width="9" height="3" fill="#ff0000"/>
<rect x="757" y="333" width="1" height="75" fill="#000"/>
<rect x="752" y="382" width="11" height="2" fill="#000"/>
<rect x="773" y="310" width="1" height="83" fill="#000"/>
<rect x="768" y="339" width="11" height="44" fill="#000"/>
<rect x="769" y="340" width="9" height="42" fill="#ff0000"/>
<rect x="789" y="274" width="1" height="66" fill="#000"/>
<rect x="784" y="281" width="11" height="59" fill="#000"/>
<rect x="785" y="282" width="9" height="57" fill="#ff0000"/>
<rect x="805" y="242" width="1" height="40" fill="#000"/>
<rect x="800" y="244" width="11" height="38" fill="#000"/>
<rect x="801" y="245" width="9" height="36" fill="#ff0000"/>
<rect x="821" y="225" width="1" height="55" fill="#000"/>
<rect x="816" y="245" width="11" height="33" fill="#000"/>
<rect x="817" y="246" width="9" height="31" fill="#00ff00"/>
<rect x="837" y="261" width="1" height="81" fill="#000"/>
<rect x="832" y="276" width="11" height="51" fill="#000"/>
<rect x="833" y="277" width="9" height="49" fill="#00ff00"/>
<rect x="853" y="288" width="1" height="120" fill="#000"/>
<rect x="848" y="326" width="11" height="79" fill="#000"/>
<rect x="849" y="327" width="9" height="77" fill="#00ff00"/>
<rect x="869" y="370" width="1" height="126" fill="#000"/>
<rect x="864" y="404" width="11" height="72" fill="#000"/>
<rect x="865" y="405" width="9" height="70" fill="#00ff00"/>
<rect x="885" y="434" width="1" height="52" fill="#000"/>
<rect x="880" y="460" width="11" height="16" fill="#000"/>
<rect x="881" y="461" width="9" height="14" fill="#ff0000"/>
<rect x="901" y="425" width="1" height="37" fill="#000"/>
<rect x="896" y="434" width="11" height="27" fill="#000"/>
<rect x="897" y="435" width="9" height="25" fill="#ff0000"/>
<rect x="917" y="423" width="1" height="37" fill="#000"/>
<rect x="912" y="433" width="11" height="2" fill="#000"/>
<rect x="933" y="327" width="1" height="111" fill="#000"/>
<rect x="928" y="333" width="11" height="102" fill="#000"/>
<rect x="929" y="334" width="9" height="100" fill="#ff0000"/>
<rect x="949" y="262" width="1" height="97" fill="#000"/>
<rect x="944" y="304" width="11" height="30" fill="#000"/>
<rect x="945" y="305" width="9" height="28" fill="#ff0000"/>
<rect x="965" y="208" width="1" height="125" fill="#000"/>
<rect x="960" y="277" width="11" height="28" fill="#000"/>
<rect x="961" y="278" width="9" height="26" fill="#ff0000"/>
<rect x="981" y="272" width="1" height="74" fill="#000"/>
<rect x="976" y="278" width="11" height="47" fill="#000"/>
<rect x="977" y="279" width="9" height="45" fill="#00ff00"/>
<rect x="997" y="301" width="1" height="29" fill="#000"/>
<rect x="992" y="308" width="11" height="17" fill="#000"/>
<rect x="993" y="309" width="9" height="15" fill="#ff0000"/>
<rect x="1013" y="292" width="1" height="34" fill="#000"/>
<rect x="1008" y="308" width="11" height="4" fill="#000"/>
<rect x="1009" y="309" width="9" height="2" fill="#00ff00"/>
<rect x="1029" y="268" width="1" height="61" fill="#000"/>
<rect x="1024" y="310" width="11" height="16" fill="#000"/>
<rect x="1025" y="311" width="9" height="14" fill="#00ff00"/>
<rect x="1045" y="287" width="1" height="89" fill="#000"/>
<rect x="1040" y="292" width="11" height="34" fill="#000"/>
<rect x="1041" y="293" width="9" height="32" fill="#ff0000"/>
<rect x="1061" y="251" width="1" height="134" fill="#000"/>
<rect x="1056" y="292" width="11" height="20" fill="#000"/>
<rect x="1057" y="293" width="9" height="18" fill="#00ff00"/>
<rect x="1077" y="249" width="1" height="79" fill="#000"/>
<rect x="1072" y="264" width="11" height="46" fill="#000"/>
<rect x="1073" y="265" width="9" height="44" fill="#ff0000"/>
<rect x="1093" y="243" width="1" height="25" fill="#000"/>
<rect x="1088" y="249" width="11" height="17" fill="#000"/>
<rect x="1089" y="250" width="9" height="15" fill="#ff0000"/>
<rect x="1109" y="233" width="1" height="41" fill="#000"/>
<rect x="1104" y="249" width="11" height="8" fill="#000"/>
<rect x="1105" y="250" width="9" height="6" fill="#00ff00"/>
<rect x="1125" y="249" width="1" height="74" fill="#000"/>
<rect x="1120" y="256" width="11" height="6" fill="#000"/>
<rect x="1121" y="257" width="9" height="4" fill="#00ff00"/>
<rect x="1141" y="256" width="1" height="106" fill="#000"/>
<rect x="1136" y="261" width="11" height="47" fill="#000"/>
<rect x="1137" y="262" width="9" height="45" fill="#00ff00"/>
<rect x="1157" y="62" width="1" height="280" fill="#000"/>
<rect x="1152" y="62" width="11" height="246" fill="#000"/>
<rect x="1153" y="63" width="9" height="244" fill="#ff0000"/>
<rect x="1173" y="55" width="1" height="51" fill="#000"/>
<rect x="1168" y="63" width="11" height="36" fill="#000"/>
<rect x="1169" y="64" width="9" height="34" fill="#00ff00"/>
<rect x="1189" y="100" width="1" height="17" fill="#000"/>
<rect x="1184" y="112" width="11" height="5" fill="#000"/>
<rect x="1185" y="113" width="9" height="3" fill="#ff0000"/>
<rect x="1205" y="88" width="1" height="41" fill="#000"/>
<rect x="1200" y="88" width="11" height="25" fill="#000"/>
<rect x="1201" y="89" width="9" height="23" fill="#ff0000"/>
<rect x="1221" y="87" width="1" height="88" fill="#000"/>
<rect x="1216" y="87" width="11" height="77" fill="#000"/>
<rect x="1217" y="88" width="9" height="75" fill="#00ff00"/>
<rect x="1237" y="154" width="1" height="57" fill="#000"/>
<rect x="1232" y="163" width="11" height="28" fill="#000"/>
<rect x="1233" y="164" width="9" height="26" fill="#00ff00"/>
<rect x="1253" y="108" width="1" height="166" fill="#000"/>
<rect x="1248" y="190" width="11" height="68" fill="#000"/>
<rect x="1249" y="191" width="9" height="66" fill="#00ff00"/>
<rect x="1269" y="248" width="1" height="39" fill="#000"/>
<rect x="1264" y="258" width="11" height="4" fill="#000"/>
<rect x="1265" y="259" width="9" height="2" fill="#00ff00"/>
<rect x="1285" y="251" width="1" height="14" fill="#000"/>
<rect x="1280" y="252" width="11" height="10" fill="#000"/>
<rect x="1281" y="253" width="9" height="8" fill="#ff0000"/>
</g>
<rect x="1645" y="47" width="2" height="1" fill="#000"/>
<text x="1650.5" y="51" font-size="10" fill="#000" stroke="#000" stroke-width="0.15" textLength="32.5" lengthAdjust="spacingAndGlyphs" xml:space="preserve">1.25865</text>
<rect x="1645" y="81" width="2" height="1" fill="#000"/>
<text x="1650.5" y="85" font-size="10" fill="#000" stroke="#000" stroke-width="0.15" textLength="32.5" lengthAdjust="spacingAndGlyphs" xml:space="preserve">1.25715</text>
<rect x="1645" y="114" width="2" height="1" fill="#000"/>
<text x="1650.5" y="118" font-size="10" fill="#000" stroke="#000" stroke-width="0.15" textLength="32.5" lengthAdjust="spacingAndGlyphs" xml:space="preserve">1.25565</text>
<rect x="1645" y="148" width="2" height="1" fill="#000"/>
<text x="1650.5" y="152" font-size="10" fill="#000" stroke="#000" stroke-width="0.15" textLength="32.5" lengthAdjust="spacingAndGlyphs" xml:space="preserve">1.25415</text>
<rect x="1645" y="182" width="2" height="1" fill="#000"/>
<text x="1650.5" y="186" font-size="10" fill="#000" stroke="#000" stroke-width="0.15" textLength="32.5" lengthAdjust="spacingAndGlyphs" xml:space="preserve">1.25265</text>
<rect x="1645" y="215" width="2" height="1" fill="#000"/>
<text x="1650.5" y="219" font-size="10" fill="#000" stroke="#000" stroke-width="0.15" textLength="32.5" lengthAdjust="spacingAndGlyphs" xml:space="preserve">1.25115</text>
<rect x="1645" y="248" width="2" height="1" fill="#000"/>
<text x="1650.5" y="252" font-size="10" fill="#000" stroke="#000" stroke-width="0.15" textLength="32.5" lengthAdjust="spacingAndGlyphs" xml:space="preserve">1.24965</text>
<rect x="1645" y="282" width="2" height="1" fill="#000"/>
<text x="1650.5" y="286" font-size="10" fill="#000" stroke="#000" stroke-width="0.15" textLength="32.5" lengthAdjust="spacingAndGlyphs" xml:space="preserve">1.24815</text>
<rect x="1645" y="316" width="2" height="1" fill="#000"/>
<text x="1650.5" y="320" font-size="10" fill="#000" stroke="#000" stroke-width="0.15" textLength="32.5" lengthAdjust="spacingAndGlyphs" xml:space="preserve">1.24665</text>
<rect x="1645" y="349" width="2" height="1" fill="#000"/>
<text x="1650.5" y="353" font-size="10" fill="#000" stroke="#000" stroke-width="0.15" textLength="32.5" lengthAdjust="spacingAndGlyphs" xml:space="preserve">1.24515</text>
<rect x="1645" y="382" width="2" height="1" fill="#000"/>
<text x="1650.5" y="386" font-size="10" fill="#000" stroke="#000" stroke-width="0.15" textLength="32.5" lengthAdjust="spacingAndGlyphs" xml:space="preserve">1.24365</text>
<rect x="1645" y="416" width="2" height="1" fill="#000"/>
<text x="1650.5" y="420" font-size="10" fill="#000" stroke="#000" stroke-width="0.15" textLength="32.5" lengthAdjust="spacingAndGlyphs" xml:space="preserve">1.24215</text>
<rect x="1645" y="449" width="2" height="1" fill="#000"/>
<text x="1650.5" y="453" font-size="10" fill="#000" stroke="#000" stroke-width="0.15" textLength="32.5" lengthAdjust="spacingAndGlyphs" xml:space="preserve">1.24065</text>
<rect x="1645" y="483" width="2" height="1" fill="#000"/>
<text x="1650.5" y="487" font-size="10" fill="#000" stroke="#000" stroke-width="0.15" textLength="32.5" lengthAdjust="spacingAndGlyphs" xml:space="preserve">1.23915</text>
<rect x="1645" y="516" width="2" height="1" fill="#000"/>
<text x="1650.5" y="520" font-size="10" fill="#000" stroke="#000" stroke-width="0.15" textLength="32.5" lengthAdjust="spacingAndGlyphs" xml:space="preserve">1.23765</text>
<rect x="1645" y="549" width="2" height="1" fill="#000"/>
<text x="1650.5" y="553" font-size="10" fill="#000" stroke="#000" stroke-width="0.15" textLength="32.5" lengthAdjust="spacingAndGlyphs" xml:space="preserve">1.23620</text>
<rect x="1645" y="582" width="2" height="1" fill="#000"/>
<text x="1650.5" y="586" font-size="10" fill="#000" stroke="#000" stroke-width="0.15" textLength="32.5" lengthAdjust="spacingAndGlyphs" xml:space="preserve">1.23470</text>
<rect x="5" y="167" width="1639" height="2" fill="#ff0000"/>
<rect x="4" y="165" width="6" height="6" fill="#ff0000"/>
<rect x="6" y="167" width="2" height="2" fill="#fff"/>
<rect x="1638" y="165" width="6" height="6" fill="#ff0000"/>
<rect x="1640" y="167" width="2" height="2" fill="#fff"/>
<rect x="1644" y="165" width="1" height="2" fill="#000"/>
<rect x="1644" y="169" width="1" height="2" fill="#000"/>
<rect x="1646" y="162" width="41" height="11" fill="#ff0000"/>
<text x="1650.5" y="171" font-size="10" fill="#fff" stroke="#fff" stroke-width="0.15" textLength="32.5" lengthAdjust="spacingAndGlyphs" xml:space="preserve">1.25324</text>
<rect x="5" y="198" width="1639" height="2" fill="#ff0000"/>
<rect x="4" y="196" width="6" height="6" fill="#ff0000"/>
<rect x="6" y="198" width="2" height="2" fill="#fff"/>
<rect x="1638" y="196" width="6" height="6" fill="#ff0000"/>
<rect x="1640" y="198" width="2" height="2" fill="#fff"/>
<rect x="1644" y="196" width="1" height="2" fill="#000"/>
<rect x="1644" y="200" width="1" height="2" fill="#000"/>
<rect x="1646" y="193" width="41" height="11" fill="#ff0000"/>
<text x="1650.5" y="202" font-size="10" fill="#fff" stroke="#fff" stroke-width="0.15" textLength="32.5" lengthAdjust="spacingAndGlyphs" xml:space="preserve">1.25186</text>
<rect x="5" y="234" width="1639" height="2" fill="#ffa500"/>
<rect x="4" y="232" width="6" height="6" fill="#ffa500"/>
<rect x="6" y="234" width="2" height="2" fill="#fff"/>
<rect x="1638" y="232" width="6" height="6" fill="#ffa500"/>
<rect x="1640" y="234" width="2" height="2" fill="#fff"/>
<rect x="1644" y="232" width="1" height="2" fill="#000"/>
<rect x="1644" y="236" width="1" height="2" fill="#000"/>
<rect x="1646" y="229" width="41" height="11" fill="#ffa500"/>
<text x="1650.5" y="238" font-size="10" fill="#fff" stroke="#fff" stroke-width="0.15" textLength="32.5" lengthAdjust="spacingAndGlyphs" xml:space="preserve">1.25025</text>
<rect x="5" y="282" width="1639" height="2" fill="#0000ff"/>
<rect x="4" y="280" width="6" height="6" fill="#0000ff"/>
<rect x="6" y="282" width="2" height="2" fill="#fff"/>
<rect x="1638" y="280" width="6" height="6" fill="#0000ff"/>
<rect x="1640" y="282" width="2" height="2" fill="#fff"/>
<rect x="1644" y="280" width="1" height="2" fill="#000"/>
<rect x="1644" y="284" width="1" height="2" fill="#000"/>
<rect x="1646" y="277" width="41" height="11" fill="#0000ff"/>
<text x="1650.5" y="286" font-size="10" fill="#fff" stroke="#fff" stroke-width="0.15" textLength="32.5" lengthAdjust="spacingAndGlyphs" xml:space="preserve">1.24810</text>
<rect x="5" y="315" width="1639" height="2" fill="#0000ff"/>
<rect x="4" y="313" width="6" height="6" fill="#0000ff"/>
<rect x="6" y="315" width="2" height="2" fill="#fff"/>
<rect x="1638" y="313" width="6" height="6" fill="#0000ff"/>
<rect x="1640" y="315" width="2" height="2" fill="#fff"/>
<rect x="1644" y="313" width="1" height="2" fill="#000"/>
<rect x="1644" y="317" width="1" height="2" fill="#000"/>
<rect x="1646" y="310" width="41" height="11" fill="#0000ff"/>
<text x="1650.5" y="319" font-size="10" fill="#fff" stroke="#fff" stroke-width="0.15" textLength="32.5" lengthAdjust="spacingAndGlyphs" xml:space="preserve">1.24663</text>
<rect x="1646" y="247" width="41" height="11" fill="#000"/>
<text x="1650.5" y="256" font-size="10" fill="#fff" stroke="#fff" stroke-width="0.15" textLength="32.5" lengthAdjust="spacingAndGlyphs" xml:space="preserve">1.24951</text>
<g shape-rendering="geometricPrecision">
<line x1="1305.2" y1="116" x2="1361.2" y2="219" stroke="#4c9a2a" stroke-width="3.2"/>
<polygon points="1368.4,231.4 1351.8,220.3 1368,211.6" fill="#4c9a2a"/>
</g>
<polygon points="1310,28 1321,28 1315.5,33.5" fill="#000" shape-rendering="geometricPrecision"/>
<polygon points="8,34 15,34 11.5,38" fill="#000" shape-rendering="geometricPrecision"/>
<text x="20" y="39" font-size="10" fill="#000" stroke="#000" stroke-width="0.15" textLength="203" lengthAdjust="spacingAndGlyphs" xml:space="preserve">GBPUSD-,H4  1.24907 1.24954 1.24894 1.24951</text>
<g clip-path="url(#c2)">
<rect x="4" y="650" width="3" height="5" fill="#00ff00"/>
<rect x="20" y="641" width="3" height="14" fill="#00ff00"/>
<rect x="36" y="632" width="3" height="23" fill="#00ff00"/>
<rect x="52" y="627" width="3" height="28" fill="#00ff00"/>
<rect x="68" y="621" width="3" height="34" fill="#00ff00"/>
<rect x="84" y="616" width="3" height="39" fill="#00ff00"/>
<rect x="100" y="608" width="3" height="47" fill="#00ff00"/>
<rect x="116" y="603" width="3" height="52" fill="#00ff00"/>
<rect x="132" y="600" width="3" height="55" fill="#00ff00"/>
<rect x="148" y="596" width="3" height="59" fill="#00ff00"/>
<rect x="164" y="595" width="3" height="60" fill="#00ff00"/>
<rect x="180" y="600" width="3" height="55" fill="#00ff00"/>
<rect x="196" y="619" width="3" height="36" fill="#00ff00"/>
<rect x="212" y="633" width="3" height="22" fill="#00ff00"/>
<rect x="228" y="647" width="3" height="8" fill="#00ff00"/>
<rect x="612" y="654" width="3" height="1" fill="#00ff00"/>
<rect x="628" y="653" width="3" height="2" fill="#00ff00"/>
<rect x="756" y="654" width="3" height="1" fill="#00ff00"/>
<rect x="772" y="649" width="3" height="6" fill="#00ff00"/>
<rect x="788" y="642" width="3" height="13" fill="#00ff00"/>
<rect x="804" y="633" width="3" height="22" fill="#00ff00"/>
<rect x="820" y="629" width="3" height="26" fill="#00ff00"/>
<rect x="836" y="630" width="3" height="25" fill="#00ff00"/>
<rect x="852" y="637" width="3" height="18" fill="#00ff00"/>
<rect x="868" y="648" width="3" height="7" fill="#00ff00"/>
<rect x="948" y="649" width="3" height="6" fill="#00ff00"/>
<rect x="964" y="644" width="3" height="11" fill="#00ff00"/>
<rect x="980" y="642" width="3" height="13" fill="#00ff00"/>
<rect x="996" y="639" width="3" height="16" fill="#00ff00"/>
<rect x="1012" y="638" width="3" height="17" fill="#00ff00"/>
<rect x="1028" y="638" width="3" height="17" fill="#00ff00"/>
<rect x="1044" y="636" width="3" height="19" fill="#00ff00"/>
<rect x="1060" y="636" width="3" height="19" fill="#00ff00"/>
<rect x="1076" y="632" width="3" height="23" fill="#00ff00"/>
<rect x="1092" y="629" width="3" height="26" fill="#00ff00"/>
<rect x="1108" y="627" width="3" height="28" fill="#00ff00"/>
<rect x="1124" y="626" width="3" height="29" fill="#00ff00"/>
<rect x="1140" y="629" width="3" height="26" fill="#00ff00"/>
<rect x="1156" y="614" width="3" height="41" fill="#00ff00"/>
<rect x="1172" y="605" width="3" height="50" fill="#00ff00"/>
<rect x="1188" y="599" width="3" height="56" fill="#00ff00"/>
<rect x="1204" y="594" width="3" height="61" fill="#00ff00"/>
<rect x="1220" y="596" width="3" height="59" fill="#00ff00"/>
<rect x="1236" y="600" width="3" height="55" fill="#00ff00"/>
<rect x="1252" y="608" width="3" height="47" fill="#00ff00"/>
<rect x="1268" y="617" width="3" height="38" fill="#00ff00"/>
<rect x="1284" y="623" width="3" height="32" fill="#00ff00"/>
<rect x="244" y="655" width="3" height="4" fill="#00ff00"/>
<rect x="260" y="655" width="3" height="11" fill="#00ff00"/>
<rect x="276" y="655" width="3" height="14" fill="#00ff00"/>
<rect x="292" y="655" width="3" height="28" fill="#00ff00"/>
<rect x="308" y="655" width="3" height="35" fill="#00ff00"/>
<rect x="324" y="655" width="3" height="41" fill="#00ff00"/>
<rect x="340" y="655" width="3" height="43" fill="#00ff00"/>
<rect x="356" y="655" width="3" height="37" fill="#00ff00"/>
<rect x="372" y="655" width="3" height="30" fill="#00ff00"/>
<rect x="388" y="655" width="3" height="27" fill="#00ff00"/>
<rect x="404" y="655" width="3" height="24" fill="#00ff00"/>
<rect x="420" y="655" width="3" height="21" fill="#00ff00"/>
<rect x="436" y="655" width="3" height="20" fill="#00ff00"/>
<rect x="452" y="655" width="3" height="12" fill="#00ff00"/>
<rect x="468" y="655" width="3" height="15" fill="#00ff00"/>
<rect x="484" y="655" width="3" height="11" fill="#00ff00"/>
<rect x="500" y="655" width="3" height="8" fill="#00ff00"/>
<rect x="516" y="655" width="3" height="7" fill="#00ff00"/>
<rect x="532" y="655" width="3" height="7" fill="#00ff00"/>
<rect x="548" y="655" width="3" height="7" fill="#00ff00"/>
<rect x="564" y="655" width="3" height="7" fill="#00ff00"/>
<rect x="580" y="655" width="3" height="3" fill="#00ff00"/>
<rect x="596" y="655" width="3" height="1" fill="#00ff00"/>
<rect x="644" y="655" width="3" height="5" fill="#00ff00"/>
<rect x="660" y="655" width="3" height="11" fill="#00ff00"/>
<rect x="676" y="655" width="3" height="11" fill="#00ff00"/>
<rect x="692" y="655" width="3" height="9" fill="#00ff00"/>
<rect x="708" y="655" width="3" height="3" fill="#00ff00"/>
<rect x="724" y="655" width="3" height="3" fill="#00ff00"/>
<rect x="740" y="655" width="3" height="1" fill="#00ff00"/>
<rect x="884" y="655" width="3" height="1" fill="#00ff00"/>
<rect x="900" y="655" width="3" height="5" fill="#00ff00"/>
<rect x="916" y="655" width="3" height="8" fill="#00ff00"/>
<rect x="932" y="655" width="3" height="3" fill="#00ff00"/>
<polyline points="5.5,660.75 21.5,658 37.5,654 53.5,650.75 69.5,645.25 85.5,640.5 101.5,635.5 117.5,629.25 133.5,622.5 149.5,616.5 165.5,611.25 181.5,607 197.5,606.5 213.5,608.25 229.5,611.25 245.5,617 261.5,624 277.5,631.25 293.5,641.25 309.5,651.25 325.5,662 341.5,671.5 357.5,677.5 373.5,682 389.5,684.5 405.5,685.75 421.5,685.75 437.5,685.5 453.5,682.5 469.5,680.25 485.5,676 501.5,673.25 517.5,670.5 533.5,668.25 549.5,666.25 565.5,664.5 581.5,662.5 597.5,661.25 613.5,660 629.5,658.25 645.5,658 661.5,658.75 677.5,659 693.5,659 709.5,659 725.5,659 741.5,659 757.5,659 773.5,658.5 789.5,656.25 805.5,653.25 821.5,649 837.5,645 853.5,643 869.5,641.75 885.5,642 901.5,643.5 917.5,644.25 933.5,646.25 949.5,648.25 965.5,649.25 981.5,651 997.5,651.25 1013.5,651 1029.5,648.25 1045.5,645.5 1061.5,642.25 1077.5,639.25 1093.5,637.25 1109.5,635.25 1125.5,633.25 1141.5,632.5 1157.5,630.75 1173.5,626.5 1189.5,622 1205.5,617 1221.5,613 1237.5,610 1253.5,608 1269.5,607 1285.5,607" fill="none" stroke="#ff0000" stroke-width="2" stroke-linejoin="round"/>
</g>
<text x="9" y="600" font-size="10" fill="#000" stroke="#000" stroke-width="0.15" textLength="148" lengthAdjust="spacingAndGlyphs" xml:space="preserve">MACD(12,26,9) 0.001541 0.002337</text>
<rect x="1645" y="589" width="1" height="1" fill="#000"/>
<text x="1648.5" y="598" font-size="10" fill="#000" stroke="#000" stroke-width="0.15" textLength="36.5" lengthAdjust="spacingAndGlyphs" xml:space="preserve">0.003181</text>
<rect x="1645" y="655" width="2" height="1" fill="#000"/>
<text x="1648.5" y="659" font-size="10" fill="#000" stroke="#000" stroke-width="0.15" textLength="17.2" lengthAdjust="spacingAndGlyphs" xml:space="preserve">0.00</text>
<text x="1648.5" y="701" font-size="10" fill="#000" stroke="#000" stroke-width="0.15" textLength="35.5" lengthAdjust="spacingAndGlyphs" xml:space="preserve">-0.00226</text>
<g clip-path="url(#c3)">
<line x1="6" y1="731.5" x2="1644" y2="731.5" stroke="#000" stroke-width="1" stroke-dasharray="3 3"/>
<line x1="6" y1="767.5" x2="1644" y2="767.5" stroke="#000" stroke-width="1" stroke-dasharray="3 3"/>
<line x1="6" y1="810.5" x2="1644" y2="810.5" stroke="#000" stroke-width="1" stroke-dasharray="3 3"/>
<polyline points="5.5,755 21.5,753 37.5,751.5 53.5,752.5 69.5,751.5 85.5,749.5 101.5,744.75 117.5,745.5 133.5,745.5 149.5,744 165.5,749.5 181.5,761.25 197.5,779.5 213.5,780.5 229.5,782 245.5,782 261.5,779.5 277.5,776 293.5,787.5 309.5,783 325.5,782.5 341.5,780.5 357.5,768 373.5,765.75 389.5,770 405.5,769.5 421.5,769 437.5,770 453.5,760.5 469.5,773 485.5,766.25 501.5,766.25 517.5,767.5 533.5,768 549.5,770 565.5,768.75 581.5,764.25 597.5,766 613.5,766 629.5,766 645.5,776.75 661.5,776.75 677.5,770.5 693.5,767.5 709.5,763 725.5,766 741.5,765.5 757.5,765 773.5,758.75 789.5,753 805.5,750 821.5,754.25 837.5,762 853.5,772.5 869.5,778.75 885.5,776.75 901.5,774.25 917.5,773.75 933.5,760.5 949.5,758.25 965.5,756.75 981.5,761.75 997.5,760.5 1013.5,760.75 1029.5,762.75 1045.5,759.75 1061.5,762 1077.5,756 1093.5,755.75 1109.5,756.25 1125.5,757 1141.5,765 1157.5,742.75 1173.5,747.5 1189.5,749 1205.5,747.5 1221.5,757.3 1237.5,761.4 1253.5,767.7 1269.5,767.7 1285.5,767.7" fill="none" stroke="#1e90ff" stroke-width="2" stroke-linejoin="round"/>
</g>
<text x="9" y="718" font-size="10" fill="#000" stroke="#000" stroke-width="0.15" textLength="68" lengthAdjust="spacingAndGlyphs" xml:space="preserve">RSI(14) 50.2018</text>
<text x="1648.5" y="716" font-size="10" fill="#000" stroke="#000" stroke-width="0.15" textLength="15" lengthAdjust="spacingAndGlyphs" xml:space="preserve">100</text>
<rect x="1645" y="731" width="2" height="1" fill="#000"/>
<text x="1648.5" y="735" font-size="10" fill="#000" stroke="#000" stroke-width="0.15" textLength="10" lengthAdjust="spacingAndGlyphs" xml:space="preserve">80</text>
<rect x="1645" y="767" width="2" height="1" fill="#000"/>
<text x="1648.5" y="771" font-size="10" fill="#000" stroke="#000" stroke-width="0.15" textLength="10" lengthAdjust="spacingAndGlyphs" xml:space="preserve">50</text>
<rect x="1645" y="810" width="2" height="1" fill="#000"/>
<text x="1648.5" y="814" font-size="10" fill="#000" stroke="#000" stroke-width="0.15" textLength="10" lengthAdjust="spacingAndGlyphs" xml:space="preserve">15</text>
<text x="1648.5" y="826" font-size="10" fill="#000" stroke="#000" stroke-width="0.15" textLength="5" lengthAdjust="spacingAndGlyphs" xml:space="preserve">0</text>
<rect x="5" y="830" width="1" height="3" fill="#000"/>
<text x="4.5" y="842" font-size="10" fill="#000" stroke="#000" stroke-width="0.15" textLength="50.5" lengthAdjust="spacingAndGlyphs" xml:space="preserve">12 Apr 2023</text>
<rect x="69" y="830" width="1" height="3" fill="#000"/>
<text x="68.5" y="842" font-size="10" fill="#000" stroke="#000" stroke-width="0.15" textLength="54" lengthAdjust="spacingAndGlyphs" xml:space="preserve">13 Apr 04:00</text>
<rect x="133" y="830" width="1" height="3" fill="#000"/>
<text x="132.5" y="842" font-size="10" fill="#000" stroke="#000" stroke-width="0.15" textLength="54" lengthAdjust="spacingAndGlyphs" xml:space="preserve">13 Apr 20:00</text>
<rect x="197" y="830" width="1" height="3" fill="#000"/>
<text x="196.5" y="842" font-size="10" fill="#000" stroke="#000" stroke-width="0.15" textLength="54" lengthAdjust="spacingAndGlyphs" xml:space="preserve">14 Apr 12:00</text>
<rect x="261" y="830" width="1" height="3" fill="#000"/>
<text x="260.5" y="842" font-size="10" fill="#000" stroke="#000" stroke-width="0.15" textLength="54" lengthAdjust="spacingAndGlyphs" xml:space="preserve">17 Apr 04:00</text>
<rect x="325" y="830" width="1" height="3" fill="#000"/>
<text x="324.5" y="842" font-size="10" fill="#000" stroke="#000" stroke-width="0.15" textLength="54" lengthAdjust="spacingAndGlyphs" xml:space="preserve">17 Apr 20:00</text>
<rect x="389" y="830" width="1" height="3" fill="#000"/>
<text x="388.5" y="842" font-size="10" fill="#000" stroke="#000" stroke-width="0.15" textLength="54" lengthAdjust="spacingAndGlyphs" xml:space="preserve">18 Apr 12:00</text>
<rect x="453" y="830" width="1" height="3" fill="#000"/>
<text x="452.5" y="842" font-size="10" fill="#000" stroke="#000" stroke-width="0.15" textLength="54" lengthAdjust="spacingAndGlyphs" xml:space="preserve">19 Apr 04:00</text>
<rect x="517" y="830" width="1" height="3" fill="#000"/>
<text x="516.5" y="842" font-size="10" fill="#000" stroke="#000" stroke-width="0.15" textLength="54" lengthAdjust="spacingAndGlyphs" xml:space="preserve">19 Apr 20:00</text>
<rect x="581" y="830" width="1" height="3" fill="#000"/>
<text x="580.5" y="842" font-size="10" fill="#000" stroke="#000" stroke-width="0.15" textLength="54" lengthAdjust="spacingAndGlyphs" xml:space="preserve">20 Apr 12:00</text>
<rect x="645" y="830" width="1" height="3" fill="#000"/>
<text x="644.5" y="842" font-size="10" fill="#000" stroke="#000" stroke-width="0.15" textLength="54" lengthAdjust="spacingAndGlyphs" xml:space="preserve">21 Apr 04:00</text>
<rect x="709" y="830" width="1" height="3" fill="#000"/>
<text x="708.5" y="842" font-size="10" fill="#000" stroke="#000" stroke-width="0.15" textLength="54" lengthAdjust="spacingAndGlyphs" xml:space="preserve">23 Apr 23:00</text>
<rect x="773" y="830" width="1" height="3" fill="#000"/>
<text x="772.5" y="842" font-size="10" fill="#000" stroke="#000" stroke-width="0.15" textLength="54" lengthAdjust="spacingAndGlyphs" xml:space="preserve">24 Apr 12:00</text>
<rect x="837" y="830" width="1" height="3" fill="#000"/>
<text x="836.5" y="842" font-size="10" fill="#000" stroke="#000" stroke-width="0.15" textLength="54" lengthAdjust="spacingAndGlyphs" xml:space="preserve">25 Apr 04:00</text>
<rect x="901" y="830" width="1" height="3" fill="#000"/>
<text x="900.5" y="842" font-size="10" fill="#000" stroke="#000" stroke-width="0.15" textLength="54" lengthAdjust="spacingAndGlyphs" xml:space="preserve">25 Apr 20:00</text>
<rect x="965" y="830" width="1" height="3" fill="#000"/>
<text x="964.5" y="842" font-size="10" fill="#000" stroke="#000" stroke-width="0.15" textLength="54" lengthAdjust="spacingAndGlyphs" xml:space="preserve">26 Apr 12:00</text>
<rect x="1029" y="830" width="1" height="3" fill="#000"/>
<text x="1028.5" y="842" font-size="10" fill="#000" stroke="#000" stroke-width="0.15" textLength="54" lengthAdjust="spacingAndGlyphs" xml:space="preserve">27 Apr 04:00</text>
<rect x="1093" y="830" width="1" height="3" fill="#000"/>
<text x="1092.5" y="842" font-size="10" fill="#000" stroke="#000" stroke-width="0.15" textLength="54" lengthAdjust="spacingAndGlyphs" xml:space="preserve">27 Apr 20:00</text>
<rect x="1157" y="830" width="1" height="3" fill="#000"/>
<text x="1156.5" y="842" font-size="10" fill="#000" stroke="#000" stroke-width="0.15" textLength="54" lengthAdjust="spacingAndGlyphs" xml:space="preserve">28 Apr 12:00</text>
<rect x="1221" y="830" width="1" height="3" fill="#000"/>
<text x="1220.5" y="842" font-size="10" fill="#000" stroke="#000" stroke-width="0.15" textLength="53" lengthAdjust="spacingAndGlyphs" xml:space="preserve">1 May 04:00</text>
<rect x="1285" y="830" width="1" height="3" fill="#000"/>
<text x="1284.5" y="842" font-size="10" fill="#000" stroke="#000" stroke-width="0.15" textLength="53" lengthAdjust="spacingAndGlyphs" xml:space="preserve">1 May 20:00</text>
</svg></body></html>
